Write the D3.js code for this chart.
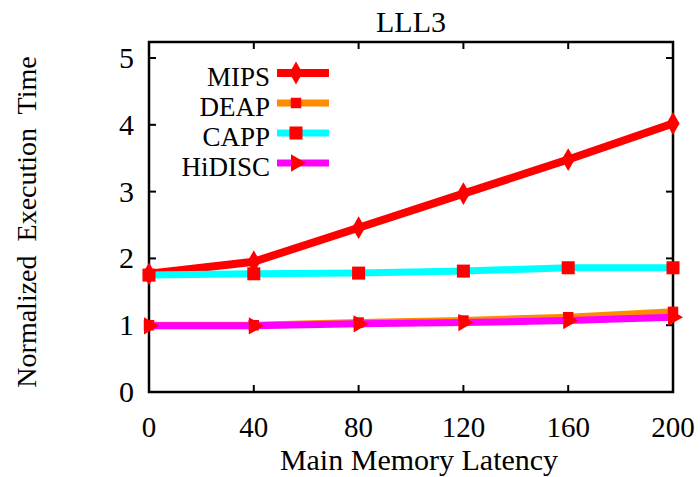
<!DOCTYPE html>
<html>
<head>
<meta charset="utf-8">
<script src="https://cdn.jsdelivr.net/npm/d3@7"></script>
<style>
  body { margin: 0; background: #fff; }
  text { font-family: "Liberation Serif", "Times New Roman", serif; fill: #000; }
</style>
</head>
<body>
<script>
const latency = [0, 40, 80, 120, 160, 200];
const seriesNames = ["MIPS", "DEAP", "CAPP", "HiDISC"];
const mips = [1.77, 1.95, 2.46, 2.97, 3.48, 4.02];
const deap = [1.00, 1.00, 1.04, 1.07, 1.12, 1.20];
const capp = [1.75, 1.77, 1.78, 1.81, 1.86, 1.86];
const hidisc = [0.99, 0.99, 1.02, 1.04, 1.07, 1.12];
const yTicks = [0, 1, 2, 3, 4, 5];

const width = 700, height = 477;
const margin = {top: 42, right: 27, bottom: 85, left: 149};

const x = d3.scaleLinear().domain([0, 200]).range([margin.left, width - margin.right]);
const y = d3.scaleLinear().domain([0, 5.24]).range([height - margin.bottom, margin.top]);

const svg = d3.select("body").append("svg")
    .attr("width", width)
    .attr("height", height);

const series = [
    {name: seriesNames[0], values: mips, color: "#ff0000", width: 8, symbol: d3.symbolDiamond, size: 150},
    {name: seriesNames[1], values: deap, color: "#ff8c00", width: 7, symbol: d3.symbolSquare, size: 110},
    {name: seriesNames[2], values: capp, color: "#00ffff", width: 7, symbol: d3.symbolSquare, size: 170},
    {name: seriesNames[3], values: hidisc, color: "#ff00ff", width: 7, symbol: d3.symbolTriangle, size: 130, rotate: 90}
];

// Frame and ticks (mirrored, pointing inward)
const frame = svg.append("g");
const tickLen = 7;
yTicks.forEach(t => {
    frame.append("line")
        .attr("x1", x(0)).attr("x2", x(0) + tickLen)
        .attr("y1", y(t)).attr("y2", y(t))
        .attr("stroke", "#000").attr("stroke-width", 2);
    frame.append("line")
        .attr("x1", x(200)).attr("x2", x(200) - tickLen)
        .attr("y1", y(t)).attr("y2", y(t))
        .attr("stroke", "#000").attr("stroke-width", 2);
    frame.append("text")
        .attr("x", x(0) - 15)
        .attr("y", y(t) + 10)
        .attr("text-anchor", "end")
        .style("font-size", "30px")
        .text(t);
});
latency.forEach(t => {
    frame.append("line")
        .attr("x1", x(t)).attr("x2", x(t))
        .attr("y1", y.range()[0]).attr("y2", y.range()[0] - tickLen)
        .attr("stroke", "#000").attr("stroke-width", 2);
    frame.append("line")
        .attr("x1", x(t)).attr("x2", x(t))
        .attr("y1", y.range()[1]).attr("y2", y.range()[1] + tickLen)
        .attr("stroke", "#000").attr("stroke-width", 2);
    frame.append("text")
        .attr("x", x(t))
        .attr("y", 437)
        .attr("text-anchor", "middle")
        .style("font-size", "29px")
        .text(t);
});
frame.append("rect")
    .attr("x", x(0)).attr("y", y.range()[1])
    .attr("width", x(200) - x(0))
    .attr("height", y.range()[0] - y.range()[1])
    .attr("fill", "none")
    .attr("stroke", "#000")
    .attr("stroke-width", 2.5);

// Titles
svg.append("text")
    .attr("x", (x(0) + x(200)) / 2)
    .attr("y", 32)
    .attr("text-anchor", "middle")
    .style("font-size", "30px")
    .text("LLL3");

svg.append("text")
    .attr("x", (x(0) + x(200)) / 2 + 8)
    .attr("y", 470)
    .attr("text-anchor", "middle")
    .style("font-size", "30px")
    .text("Main Memory Latency");

svg.append("text")
    .attr("transform", `translate(36, ${222}) rotate(-90)`)
    .attr("text-anchor", "middle")
    .style("font-size", "28px")
    .style("white-space", "pre")
    .text("Normalized  Execution  Time");

// Lines and markers
const line = d3.line()
    .x((d, i) => x(latency[i]))
    .y(d => y(d));

const plot = svg.append("g");
series.forEach(s => {
    plot.append("path")
        .datum(s.values)
        .attr("d", line)
        .attr("fill", "none")
        .attr("stroke", s.color)
        .attr("stroke-width", s.width)
        .attr("stroke-linejoin", "round");
    plot.selectAll(null)
        .data(s.values)
        .join("path")
        .attr("d", d3.symbol(s.symbol, s.size))
        .attr("transform", (d, i) => `translate(${x(latency[i])},${y(d)}) rotate(${s.rotate || 0})`)
        .attr("fill", "#ff0000");
});

// Legend
const legend = svg.append("g");
series.forEach((s, i) => {
    const base = 86 + i * 30;
    legend.append("text")
        .attr("x", 270)
        .attr("y", base)
        .attr("text-anchor", "end")
        .style("font-size", "27px")
        .text(s.name);
    legend.append("line")
        .attr("x1", 277).attr("x2", 329)
        .attr("y1", base - 13).attr("y2", base - 13)
        .attr("stroke", s.color)
        .attr("stroke-width", s.width);
    legend.append("path")
        .attr("d", d3.symbol(s.symbol, s.size))
        .attr("transform", `translate(296,${base - 13}) rotate(${s.rotate || 0})`)
        .attr("fill", "#ff0000");
});
</script>
</body>
</html>
